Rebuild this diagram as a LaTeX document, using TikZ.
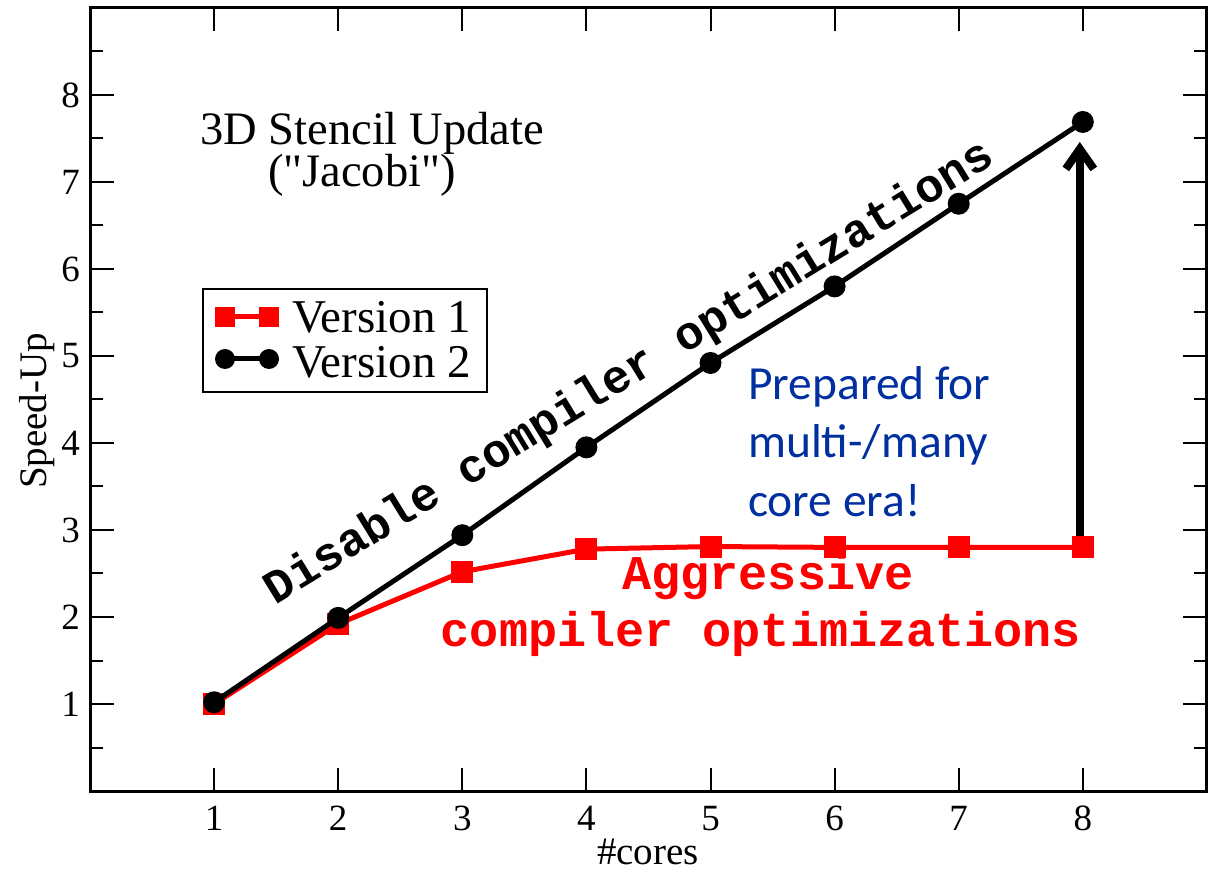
\documentclass[tikz,border=0pt]{standalone}
\usepackage{fontspec}
\setmainfont{Liberation Serif}[Ligatures=TeXOff]
\newfontfamily\codefont{Liberation Mono}
\newfontfamily\calfont{Carlito}
\usetikzlibrary{arrows.meta}
\definecolor{noteblue}{RGB}{0,48,160}
\begin{document}
\begin{tikzpicture}[x=1pt,y=1pt,
  framestyle/.style={line width=3pt},
  tickstyle/.style={line width=2pt},
  ticklab/.style={font=\fontsize{37}{37}\selectfont, inner sep=0pt},
  axlab/.style={font=\fontsize{39}{39}\selectfont, inner sep=0pt},
  v1mark/.style={rectangle, fill=red, minimum size=22pt, inner sep=0pt},
  v2mark/.style={circle, fill=black, minimum size=22pt, inner sep=0pt},
  v1line/.style={red, line width=5pt},
  v2line/.style={black, line width=5pt},
  legtext/.style={font=\fontsize{47}{47}\selectfont, inner sep=0pt, anchor=base west},
  codetext/.style={font=\codefont\bfseries\fontsize{47}{47}\selectfont, inner sep=0pt},
  redcode/.style={font=\codefont\bfseries\fontsize{48.5}{48.5}\selectfont, inner sep=0pt, text=red, anchor=base},
  bluetext/.style={font=\calfont\fontsize{47.5}{47.5}\selectfont, text=noteblue, inner sep=0pt, anchor=base west},
  titletext/.style={font=\fontsize{46.5}{46.5}\selectfont, inner sep=0pt, anchor=base}
]
\useasboundingbox (0,0) rectangle (1213,871);
\fill[white] (0,0) rectangle (1213,871);

\begin{scope}[shift={(90,80)}, x=124.1pt, y=87pt]
  % data
  \foreach \i/\v in {1/1.0,2/1.92,3/2.52,4/2.78,5/2.81,6/2.80,7/2.80,8/2.80}
    \coordinate (a\i) at (\i,\v);
  \foreach \i/\v in {1/1.02,2/1.99,3/2.94,4/3.95,5/4.92,6/5.80,7/6.75,8/7.69}
    \coordinate (b\i) at (\i,\v);
  % frame
  \draw[framestyle] (0,0) rectangle (9,9);
  % y ticks
  \foreach \y in {1,...,8} {
    \draw[tickstyle] (0,\y) -- ++(24pt,0);
    \draw[tickstyle] (9,\y) -- ++(-24pt,0);
    \node[ticklab, anchor=east] (yl\y) at ([xshift=-10pt]0,\y) {\y};
  }
  \foreach \y in {0.5,1.5,...,8.5} {
    \draw[tickstyle] (0,\y) -- ++(13pt,0);
    \draw[tickstyle] (9,\y) -- ++(-13pt,0);
  }
  % x ticks
  \foreach \x in {1,...,8} {
    \draw[tickstyle] (\x,0) -- ++(0,23pt);
    \draw[tickstyle] (\x,9) -- ++(0,-23pt);
    \node[ticklab, anchor=base] (xl\x) at ([yshift=-39pt]\x,0) {\x};
  }
  % arrow
  \draw[line width=8pt, -{Straight Barb[length=20pt,width=28pt]}]
    ([xshift=-3pt]a8) -- ([xshift=-3pt,yshift=-20pt]b8);
  % version 1
  \draw[v1line] (a1) -- (a2) -- (a3) -- (a4) -- (a5) -- (a6) -- (a7) -- (a8);
  \foreach \i in {1,...,8} \node[v1mark] (m1\i) at (a\i) {};
  % version 2
  \draw[v2line] (b1) -- (b2) -- (b3) -- (b4) -- (b5) -- (b6) -- (b7) -- (b8);
  \foreach \i in {1,...,8} \node[v2mark] (m2\i) at (b\i) {};
\end{scope}

% axis labels
\node[axlab, anchor=base] (xlab) at (648,7) {\#cores};
\node[axlab, anchor=base, rotate=90] (ylab) at (46,460) {Speed-Up};

% title
\node[titletext] (title1) at (372,726) {3D Stencil Update};
\node[titletext] (title2) at (362,684) {("Jacobi")};

% legend
\draw[line width=1.5pt] (203,582) rectangle (487,479);
\coordinate (l1a) at (225,554);
\coordinate (l1b) at (269,554);
\coordinate (l2a) at (225,512);
\coordinate (l2b) at (269,512);
\draw[v1line] (l1a) -- (l1b);
\node[v1mark, minimum size=20pt] (lm1a) at (l1a) {};
\node[v1mark, minimum size=20pt] (lm1b) at (l1b) {};
\draw[v2line] (l2a) -- (l2b);
\node[v2mark, minimum size=20pt] (lm2a) at (l2a) {};
\node[v2mark, minimum size=20pt] (lm2b) at (l2b) {};
\node[legtext] (leg1) at (292,538) {Version 1};
\node[legtext] (leg2) at (292,493) {Version 2};

% annotations
\node[codetext, anchor=base, rotate=31.5] (dis) at (636,487) {Disable compiler optimizations};
\node[redcode] (agg1) at (768,281) {Aggressive};
\node[redcode] (agg2) at (761,225) {compiler optimizations};
\node[bluetext] (bl1) at (748,471) {Prepared for};
\node[bluetext] (bl2) at (748,413) {multi-/many};
\node[bluetext] (bl3) at (748,354) {core era!};
\end{tikzpicture}
\end{document}
